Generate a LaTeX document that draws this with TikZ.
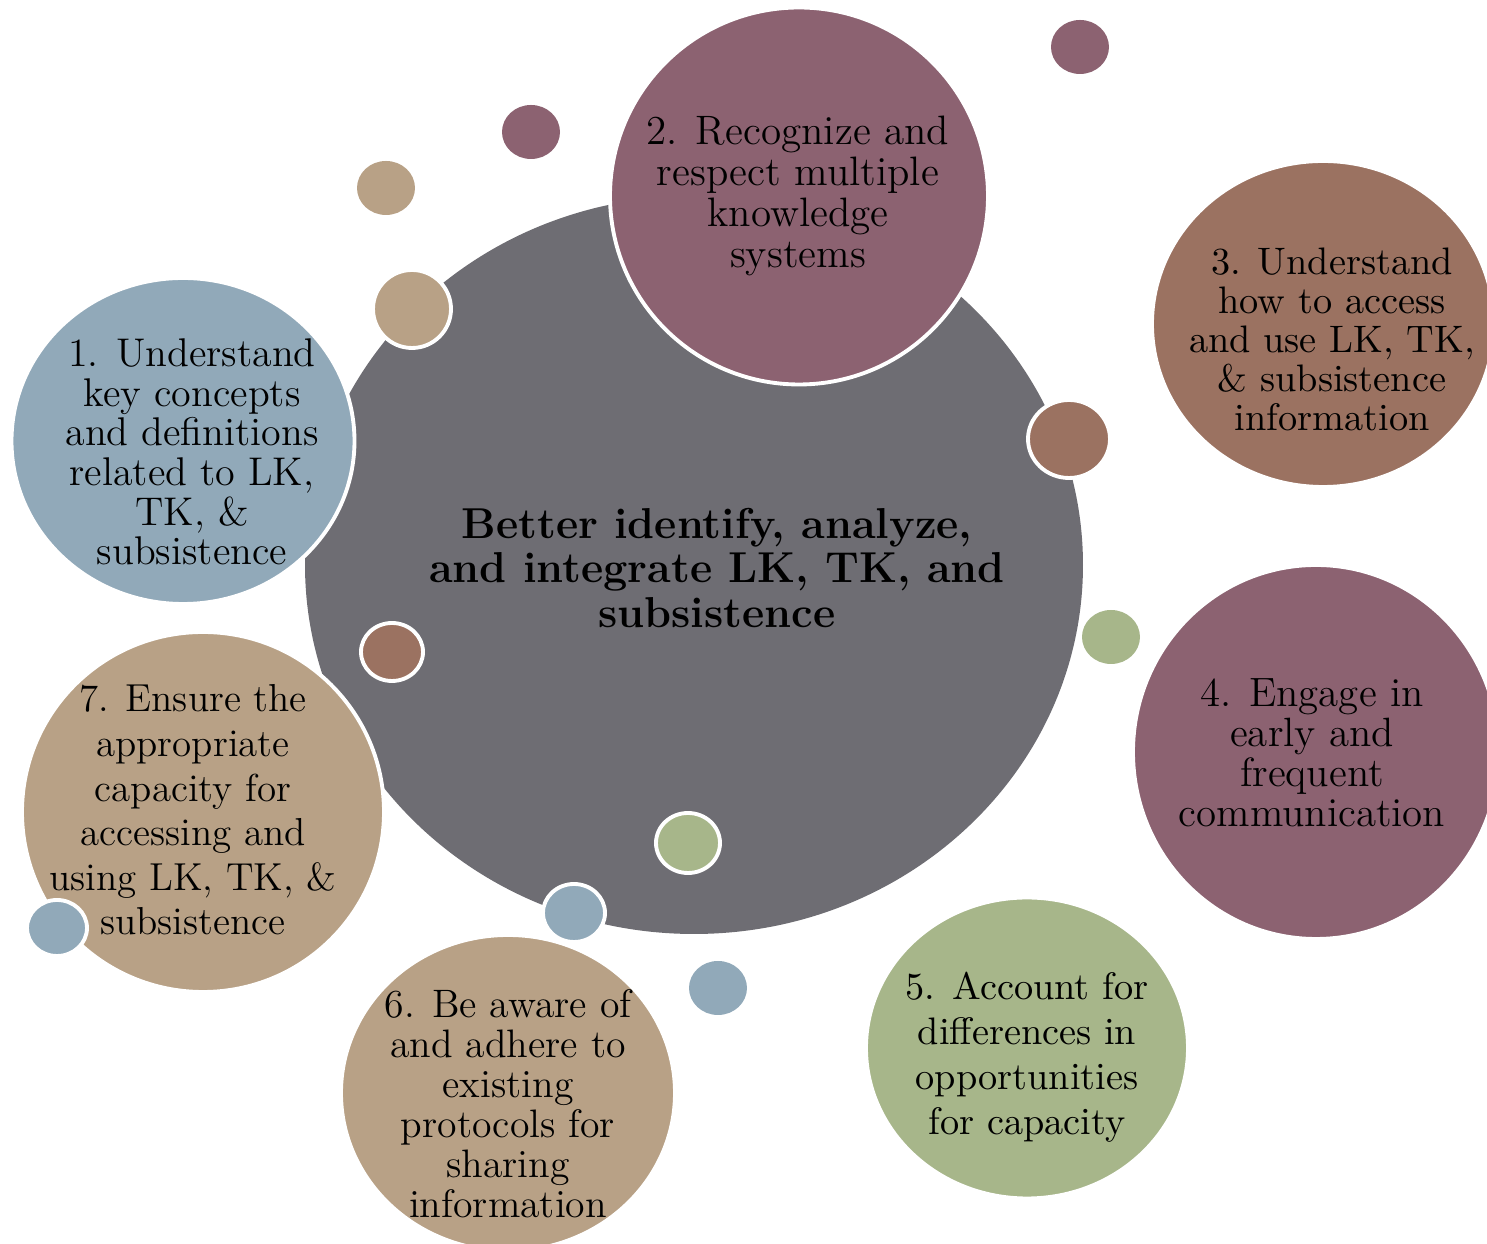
\documentclass[tikz,border=0pt]{standalone}
\usepackage{tikz}
\usetikzlibrary{calc}
\definecolor{bubblegray}{HTML}{6E6D73}
\definecolor{bubblemauve}{HTML}{8C6271}
\definecolor{bubblebrown}{HTML}{9B7261}
\definecolor{bubblegreen}{HTML}{A7B68A}
\definecolor{bubbleblue}{HTML}{91A9B9}
\definecolor{bubbletan}{HTML}{B8A186}
\def\bubble[#1](#2)(#3:#4){\filldraw[#1] (#2) ellipse [x radius=#3mm, y radius=#4mm];}
\tikzset{
  rim/.style={draw=white, line width=1.1pt},
  bare/.style={draw=none},
  goal/.style 2 args={align=center, inner sep=0pt, font=\fontsize{#1}{#2}\selectfont},
  aim/.style={align=center, inner sep=0pt, font=\fontsize{12.3}{12.8}\selectfont\bfseries},
}

\begin{document}
\begin{tikzpicture}[x=0.1mm, y=-0.1mm]
			%%%%% START %%%%%
			\useasboundingbox (0, 0) rectangle (1487, 1244);
			\clip (0, 0) rectangle (1487, 1244);
			
			% loose bubbles
			\bubble[fill=bubblemauve, bare](1080, 47)(2.9:2.7)
			\bubble[fill=bubblemauve, bare](531, 132)(2.9:2.7)
			\bubble[fill=bubbletan, bare](386, 188)(2.9:2.7)
			\bubble[fill=bubblegreen, bare](1111, 637)(2.9:2.7)
			\bubble[fill=bubbleblue, bare](718, 988)(2.9:2.7)
			
			% centre
			\bubble[fill=bubblegray, bare](694, 565)(38.9:36.9)
			
			% goals
			\bubble[fill=bubblemauve, rim](799, 196)(18.9:18.85)
			\bubble[fill=bubbleblue, rim](183, 441)(17.15:16.3)
			\bubble[fill=bubblebrown, rim](1323, 324)(17.1:16.3)
			\bubble[fill=bubblemauve, rim](1316, 752)(18.3:18.7)
			\bubble[fill=bubblegreen, rim](1027, 1048)(16.1:15.05)
			\bubble[fill=bubbletan, rim](508, 1093)(16.7:15.8)
			\bubble[fill=bubbletan, rim](203, 812)(18.1:18.0)
			
			% bubbles with a rim
			\bubble[fill=bubbletan, rim](412, 309)(3.9:3.9)
			\bubble[fill=bubblebrown, rim](1069, 439)(4.1:3.9)
			\bubble[fill=bubblebrown, rim](392, 652)(3.1:2.9)
			\bubble[fill=bubblegreen, rim](688, 843)(3.2:3.0)
			\bubble[fill=bubbleblue, rim](574, 913)(3.1:2.9)
			\bubble[fill=bubbleblue, rim](57, 928)(3.0:2.8)
			
			\node[aim] (centre) at (717, 568) {Better identify, analyze,\\ and integrate LK, TK, and\\ subsistence};
			
			\node[goal={11.4}{11.3}] (goal1) at (192, 452) {1. Understand\\ key concepts\\ and definitions\\ related to LK,\\ TK, \&\\ subsistence};
			\node[goal={11.7}{11.6}] (goal2) at (798, 196) {2. Recognize and\\ respect multiple\\ knowledge\\ systems};
			\node[goal={10.9}{11.1}] (goal3) at (1332, 339) {3. Understand\\ how to access\\ and use LK, TK,\\ \& subsistence\\ information};
			\node[goal={11.65}{11.4}] (goal4) at (1312, 753) {4. Engage in\\ early and\\ frequent\\ communication};
			\node[goal={10.9}{12.8}] (goal5) at (1027, 1057) {5. Account for\\ differences in\\ opportunities\\ for capacity};
			\node[goal={11.3}{11.4}] (goal6) at (508, 1104) {6. Be aware of\\ and adhere to\\ existing\\ protocols for\\ sharing\\ information};
			\node[goal={11.1}{12.7}] (goal7) at (193, 810) {7. Ensure the\\ appropriate\\ capacity for\\ accessing and\\ using LK, TK, \&\\ subsistence};
			
			%%%%% END %%%%%
\end{tikzpicture}
\end{document}
